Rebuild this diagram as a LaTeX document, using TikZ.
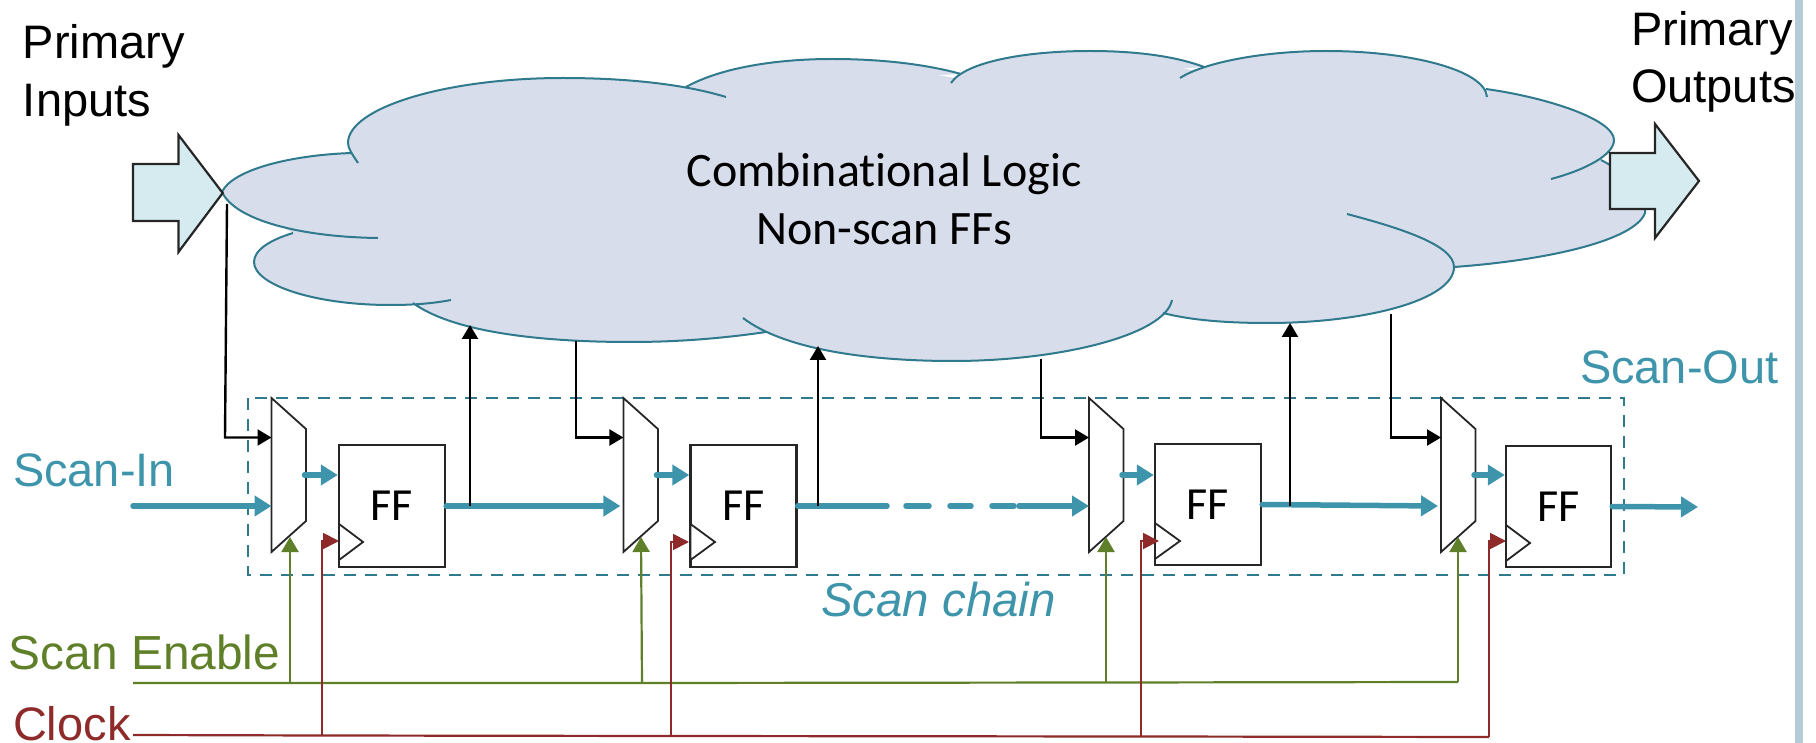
\documentclass[tikz,border=0pt]{standalone}
\usepackage{fontspec}
\setmainfont{Liberation Sans}
\newfontfamily\calib[Ligatures=NoCommon]{Carlito}
\usetikzlibrary{arrows.meta}
\definecolor{teal}{HTML}{3E95AB}
\definecolor{tealdk}{HTML}{2F7A8C}
\definecolor{cloudc}{HTML}{D8DDEB}
\definecolor{arrowc}{HTML}{D5EBF0}
\definecolor{grn}{HTML}{5F7F28}
\definecolor{rd}{HTML}{8E2A2A}
\definecolor{stripc}{HTML}{B5CCD6}
\tikzset{
  lbl/.style={inner sep=0pt,outer sep=0pt,anchor=base west,align=left,font=\fontsize{47}{57.5}\selectfont},
  cloudline/.style={draw=tealdk,line width=2pt},
  bigarrow/.style={draw=black!85,line width=2.2pt,fill=arrowc,line join=miter},
  chainbox/.style={draw=tealdk,line width=1.8pt,dash pattern=on 12pt off 9pt},
  muxbox/.style={draw=black!85,line width=1.8pt,fill=white,line join=miter},
  ffbox/.style={draw=black!85,line width=2.4pt,fill=white,inner sep=0pt,minimum width=106pt,minimum height=122pt,font=\calib\fontsize{46}{46}\selectfont},
  ticktri/.style={draw=black!85,line width=1.8pt,fill=white,line join=miter},
  chain/.style={draw=teal,line width=5.5pt,line cap=round},
  chainarrow/.style={chain,-{Triangle[length=17pt,width=20pt]}},
  ctrl/.style={draw=black,line width=2.4pt,-{Triangle[length=14pt,width=16pt]}},
  enl/.style={draw=grn,line width=2.2pt},
  enarrow/.style={enl,-{Triangle[length=15pt,width=17pt]}},
  ckl/.style={draw=rd,line width=1.8pt},
  ckarrow/.style={ckl,-{Triangle[length=16pt,width=16pt]}},
}
\def\cloudlobes{
  (222,192) .. controls (232,170) and (290,155) .. (352,153)
  (358,163) .. controls (352,154) and (348,148) .. (348,143) .. controls (348,108) and (445,78) .. (563,78) .. controls (620,78) and (680,83) .. (726,97)
  (686,87) .. controls (720,68) and (775,59) .. (832,59) .. controls (880,59) and (925,64) .. (961,74)
  (951,83) .. controls (965,62) and (1025,51) .. (1090,51) .. controls (1135,51) and (1175,56) .. (1204,67)
  (1180,78) .. controls (1205,62) and (1265,51) .. (1326,51) .. controls (1410,51) and (1485,70) .. (1487,97)
  (1486,89) .. controls (1550,98) and (1614,120) .. (1614,140) .. controls (1614,155) and (1585,170) .. (1551,179)
  (1601,160) .. controls (1630,175) and (1647,195) .. (1645,213) .. controls (1635,240) and (1550,260) .. (1454,267)
  (1347,214) .. controls (1400,228) and (1454,245) .. (1454,267) .. controls (1454,300) and (1365,323) .. (1268,323) .. controls (1225,323) and (1190,320) .. (1163,313)
  (1172,300) .. controls (1165,335) and (1060,361) .. (953,361) .. controls (870,361) and (785,350) .. (743,318)
  (766,332) .. controls (725,338) and (680,342) .. (631,342) .. controls (530,342) and (450,330) .. (413,303)
  (451,300) .. controls (430,304) and (410,305) .. (390,305) .. controls (315,305) and (254,285) .. (254,262) .. controls (254,250) and (270,240) .. (293,233)
  (378,238) .. controls (300,237) and (235,220) .. (222,192)
}
\begin{document}
\begin{tikzpicture}[x=1pt,y=-1pt]
\useasboundingbox (0,0) rectangle (1816,743);
\fill[stripc] (1795,0) rectangle (1803,743);
% cloud
\fill[cloudc] \cloudlobes
  (222,192) -- (352,153) -- (563,78) -- (686,87) -- (832,59) -- (956,78) -- (1090,51) -- (1192,70) -- (1326,51) -- (1487,93) -- (1614,140) -- (1601,160) -- (1645,213) -- (1454,267) -- (1268,323) -- (1165,313) -- (953,361) -- (766,332) -- (631,342) -- (413,303) -- (390,305) -- (254,262) -- (293,233) -- cycle;
\draw[cloudline] \cloudlobes;
\node[inner sep=0pt,anchor=base,align=center,font=\calib\fontsize{48}{58}\selectfont] (cl) at (884,244.5) {Combinational Logic\\Non-scan FFs};
% big arrows
\draw[bigarrow] (133,164) -- (178.5,164) -- (178.5,135) -- (222.7,193) -- (178.5,252) -- (178.5,221) -- (133,221) -- cycle;
\draw[bigarrow] (1610,153) -- (1655,153) -- (1655,124) -- (1699,181) -- (1655,238) -- (1655,209) -- (1610,209) -- cycle;
% scan chain box
\draw[chainbox] (248,398) rectangle (1624,575);
% labels
\node[lbl] (pi) at (23,116.5) {Primary\\Inputs};
\node[lbl] (po) at (1631,103) {Primary\\Outputs};
\node[lbl,text=teal] (si) at (13,486) {Scan-In};
\node[lbl,text=teal] (so) at (1580,384) {Scan-Out};
\node[lbl,text=teal,font=\itshape\fontsize{47.5}{57}\selectfont] (sc) at (821,616) {Scan chain};
\node[lbl,text=grn,font=\fontsize{47.8}{57}\selectfont] (se) at (9,669) {Scan Enable};
\node[lbl,text=rd] (ck) at (13,740) {Clock};
% muxes
\foreach \n/\x in {1/271.5,2/623.4,3/1089,4/1441}{
  \draw[muxbox] (\x,398) -- (\x+34.5,429) -- (\x+34.5,521) -- (\x,552) -- cycle;
  \coordinate (m\n a) at (\x,506);
  \coordinate (m\n b) at (\x,437.5);
  \coordinate (m\n o) at (\x+33,475);
}
% flip-flops
\node[ffbox] (ff1) at (392,506) {FF};
\node[ffbox] (ff2) at (743.5,506) {FF};
\node[ffbox,minimum height=121pt] (ff3) at (1208,504.5) {FF};
\node[ffbox,minimum height=121pt,minimum width=105pt] (ff4) at (1558.5,506.5) {FF};
\draw[ticktri] (339,524) -- (363,542) -- (339,560) -- cycle;
\draw[ticktri] (690.5,524) -- (715,542) -- (690.5,560) -- cycle;
\draw[ticktri] (1155,523) -- (1180,541) -- (1155,559) -- cycle;
\draw[ticktri] (1506,525) -- (1530,543) -- (1506,561) -- cycle;
% named points
\coordinate (sistart) at (133,506);
\coordinate (soend) at (1698,507);
\coordinate (d1) at (887,506);
\coordinate (d2) at (906,506);
\coordinate (d3) at (929,506);
\coordinate (d4) at (950,506);
\coordinate (d5) at (971,506);
\coordinate (d6) at (992,506);
\coordinate (d7) at (1014,506);
\coordinate (d8) at (1019,506);
% scan path
\draw[chainarrow] (sistart) -- (m1a);
\draw[chainarrow] (ff1.east) -- ([xshift=-3pt]m2a);
\draw[chain] (ff2.east) -- (d1);
\draw[chain] (d2) -- (d3);
\draw[chain] (d4) -- (d5);
\draw[chain] (d6) -- (d7);
\draw[chainarrow] (d8) -- (m3a);
\draw[chainarrow] (ff3.east) -- ([xshift=-3pt]m4a);
\draw[chainarrow] (ff4.east) -- (soend);
\draw[chainarrow] (m1o) -- (ff1.west |- m1o);
\draw[chainarrow] (m2o) -- (ff2.west |- m2o);
\draw[chainarrow] (m3o) -- (ff3.west |- m3o);
\draw[chainarrow] (m4o) -- (ff4.west |- m4o);
% cloud to mux inputs
\coordinate (c1) at (227,204); \coordinate (c1b) at (225,437.5);
\coordinate (c2) at (576,341); \coordinate (c2b) at (576,437.5);
\coordinate (c3) at (1041,359); \coordinate (c3b) at (1041,437.5);
\coordinate (c4) at (1391,314); \coordinate (c4b) at (1391,437.5);
\draw[ctrl] (c1) -- (c1b) -- (m1b);
\draw[ctrl] (c2) -- (c2b) -- (m2b);
\draw[ctrl] (c3) -- (c3b) -- (m3b);
\draw[ctrl] (c4) -- (c4b) -- (m4b);
% flip-flop outputs to cloud
\coordinate (u1) at (470,506); \coordinate (t1) at (470,325);
\coordinate (u2) at (818,506); \coordinate (t2) at (818,346);
\coordinate (u3) at (1290,506); \coordinate (t3) at (1290,323);
\draw[ctrl] (u1) -- (t1);
\draw[ctrl] (u2) -- (t2);
\draw[ctrl] (u3) -- (t3);
% scan enable
\coordinate (en0) at (133,683);
\coordinate (en1) at (290,683); \coordinate (ent1) at (290,537);
\coordinate (en2) at (642,683); \coordinate (ent2) at (641,537);
\coordinate (en3) at (1106,682.5); \coordinate (ent3) at (1106,537);
\coordinate (en4) at (1458,682); \coordinate (ent4) at (1458,537);
\draw[enl] (en0) -- (en1) -- (en2) -- (en3) -- (en4);
\draw[enarrow] (en1) -- (ent1);
\draw[enarrow] (en2) -- (ent2);
\draw[enarrow] (en3) -- (ent3);
\draw[enarrow] (en4) -- (ent4);
% clock
\coordinate (ck0) at (133,735);
\coordinate (ck1) at (322,735.5);
\coordinate (ck2) at (671,736);
\coordinate (ck3) at (1141,736.5);
\coordinate (ck4) at (1489,737);
\coordinate (ckt1) at (339,541);
\coordinate (ckt2) at (689,542);
\coordinate (ckt3) at (1159,541);
\coordinate (ckt4) at (1506,541);
\draw[ckl,line width=2.2pt] (ck0) -- (ck1) -- (ck2) -- (ck3) -- (ck4);
\draw[ckarrow] (ck1) |- (ckt1);
\draw[ckarrow] (ck2) |- (ckt2);
\draw[ckarrow] (ck3) |- (ckt3);
\draw[ckarrow] (ck4) |- (ckt4);
\end{tikzpicture}
\end{document}
